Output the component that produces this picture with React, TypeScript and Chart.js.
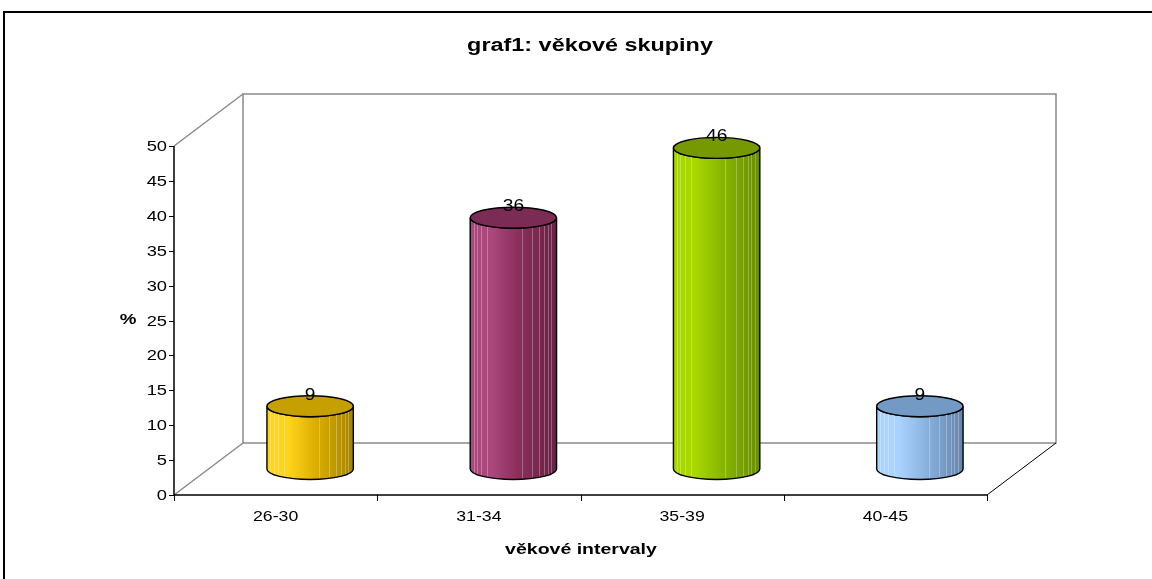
import React, { useEffect, useRef } from "react";
import { Chart, registerables } from "chart.js";

Chart.register(...registerables);

const chartTitle = "graf1: věkové skupiny";
const xAxisTitle = "věkové intervaly";
const yAxisTitle = "%";
const categories = ["26-30", "31-34", "35-39", "40-45"];
const values = [9, 36, 46, 9];
const lightColors = ["#FFD41C", "#AA487C", "#A8D800", "#AAD4FF"];
const midColors = ["#DDB000", "#8C2E5C", "#8AB800", "#8CB4E0"];
const darkColors = ["#A48400", "#682244", "#688C00", "#6384AC"];
const topColors = ["#C6A000", "#7A2C54", "#769800", "#7399C5"];

const DX = 69;
const DY = -52;
const FONT = "'Liberation Sans', Arial, sans-serif";

function stretchText(
  ctx: CanvasRenderingContext2D,
  text: string,
  x: number,
  y: number,
  font: string,
  align: CanvasTextAlign,
  baseline: CanvasTextBaseline,
  sx: number
) {
  ctx.save();
  ctx.translate(x, y);
  ctx.scale(sx, 1);
  ctx.font = font;
  ctx.fillStyle = "#000";
  ctx.textAlign = align;
  ctx.textBaseline = baseline;
  ctx.fillText(text, 0, 0);
  ctx.restore();
}

function bodyPath(ctx: CanvasRenderingContext2D, cx: number, rx: number, ry: number, topY: number, botY: number) {
  ctx.beginPath();
  ctx.moveTo(cx - rx, topY);
  ctx.lineTo(cx - rx, botY);
  ctx.ellipse(cx, botY, rx, ry, 0, Math.PI, 0, true);
  ctx.lineTo(cx + rx, topY);
  ctx.ellipse(cx, topY, rx, ry, 0, 0, Math.PI, false);
  ctx.closePath();
}

const excel3d = {
  id: "excel3d",
  beforeDatasetsDraw(chart: any) {
    const ctx: CanvasRenderingContext2D = chart.ctx;
    const { left, right, top, bottom } = chart.chartArea;
    const xs = chart.scales.x;
    const ys = chart.scales.y;
    ctx.save();
    // outer border
    ctx.fillStyle = "#000";
    ctx.fillRect(3, 11, 1152, 2);
    ctx.fillRect(3, 11, 2, 579);

    // back wall and side edges (gray)
    ctx.strokeStyle = "#8a8a8a";
    ctx.lineWidth = 1.5;
    ctx.strokeRect(left + DX, top + DY, right - left, bottom - top);
    ctx.beginPath();
    ctx.moveTo(left, top);
    ctx.lineTo(left + DX, top + DY);
    ctx.moveTo(left, bottom);
    ctx.lineTo(left + DX, bottom + DY);
    ctx.stroke();

    // floor right diagonal (black)
    ctx.strokeStyle = "#000";
    ctx.lineWidth = 1;
    ctx.beginPath();
    ctx.moveTo(right, bottom);
    ctx.lineTo(right + DX, bottom + DY);
    ctx.stroke();

    // axes
    ctx.lineWidth = 1.5;
    ctx.beginPath();
    ctx.moveTo(left, top);
    ctx.lineTo(left, bottom);
    ctx.lineTo(right, bottom);
    ctx.stroke();

    // y ticks
    ctx.lineWidth = 1;
    ys.ticks.forEach((t: any) => {
      const y = Math.round(ys.getPixelForValue(t.value)) + 0.5;
      ctx.beginPath();
      ctx.moveTo(left - 5, y);
      ctx.lineTo(left, y);
      ctx.stroke();
      stretchText(ctx, String(t.value), left - 7, y, `15px ${FONT}`, "right", "middle", 1.22);
    });

    // x ticks and labels
    const step = xs.getPixelForValue(1) - xs.getPixelForValue(0);
    const first = xs.getPixelForValue(0) - step / 2;
    for (let i = 0; i <= categories.length; i++) {
      const x = Math.round(first + i * step) + 0.5;
      ctx.beginPath();
      ctx.moveTo(x, bottom);
      ctx.lineTo(x, bottom + 6);
      ctx.stroke();
    }
    categories.forEach((c, i) => {
      stretchText(ctx, c, xs.getPixelForValue(i), bottom + 22, `15px ${FONT}`, "center", "middle", 1.18);
    });

    // titles
    stretchText(ctx, chartTitle, 590, 51, `bold 18px ${FONT}`, "center", "alphabetic", 1.3);
    stretchText(ctx, xAxisTitle, 581, 550, `bold 15px ${FONT}`, "center", "middle", 1.3);
    stretchText(ctx, yAxisTitle, 128, 320, `bold 15px ${FONT}`, "center", "middle", 1.25);
    ctx.restore();
  },
  afterDatasetsDraw(chart: any) {
    const ctx: CanvasRenderingContext2D = chart.ctx;
    const meta = chart.getDatasetMeta(0);
    meta.data.forEach((bar: any, i: number) => {
      const rx = bar.width / 2;
      const ry = 10.5;
      const cx = bar.x + DX / 2;
      const topY = bar.y + DY / 2;
      const botY = bar.base + DY / 2;
      ctx.save();
      // body fill
      bodyPath(ctx, cx, rx, ry, topY, botY);
      const g = ctx.createLinearGradient(cx - rx, 0, cx + rx, 0);
      g.addColorStop(0, lightColors[i]);
      g.addColorStop(0.25, lightColors[i]);
      g.addColorStop(0.55, midColors[i]);
      g.addColorStop(1, darkColors[i]);
      ctx.fillStyle = g;
      ctx.fill();
      // stripes
      ctx.save();
      bodyPath(ctx, cx, rx, ry, topY, botY);
      ctx.clip();
      ctx.strokeStyle = "rgba(255,255,255,0.28)";
      ctx.lineWidth = 1;
      [0.04, 0.08, 0.13, 0.2, 0.6, 0.72, 0.8, 0.86, 0.9, 0.94].forEach((f) => {
        const x = Math.round(cx - rx + f * 2 * rx) + 0.5;
        ctx.beginPath();
        ctx.moveTo(x, topY);
        ctx.lineTo(x, botY + ry);
        ctx.stroke();
      });
      ctx.restore();
      // outline
      bodyPath(ctx, cx, rx, ry, topY, botY);
      ctx.strokeStyle = "#000";
      ctx.lineWidth = 1.4;
      ctx.stroke();
      // top ellipse
      ctx.beginPath();
      ctx.ellipse(cx, topY, rx, ry, 0, 0, Math.PI * 2);
      ctx.fillStyle = topColors[i];
      ctx.fill();
      ctx.stroke();
      ctx.restore();
      // data label
      stretchText(ctx, String(values[i]), cx, topY - 11, `16px ${FONT}`, "center", "middle", 1.2);
    });
  },
};

export default function App() {
  const canvasRef = useRef<HTMLCanvasElement>(null);
  useEffect(() => {
    if (!canvasRef.current) return;
    const chart = new Chart(canvasRef.current, {
      type: "bar",
      data: {
        labels: categories,
        datasets: [
          {
            data: values,
            backgroundColor: "rgba(0,0,0,0)",
            borderWidth: 0,
            categoryPercentage: 1,
            barPercentage: 0.425,
          },
        ],
      },
      options: {
        responsive: false,
        animation: false,
        devicePixelRatio: 1,
        layout: { padding: { left: 174, right: 165, top: 146, bottom: 84 } },
        plugins: { legend: { display: false }, title: { display: false }, tooltip: { enabled: false } },
        scales: {
          x: { display: false, offset: true },
          y: { display: false, min: 0, max: 50, ticks: { stepSize: 5 } },
        },
      },
      plugins: [excel3d],
    });
    return () => chart.destroy();
  }, []);
  return (
    <div style={{ position: "fixed", left: 0, top: 0, width: 1152, height: 579, background: "#fff" }}>
      <canvas ref={canvasRef} width={1152} height={579} style={{ display: "block" }} />
    </div>
  );
}
